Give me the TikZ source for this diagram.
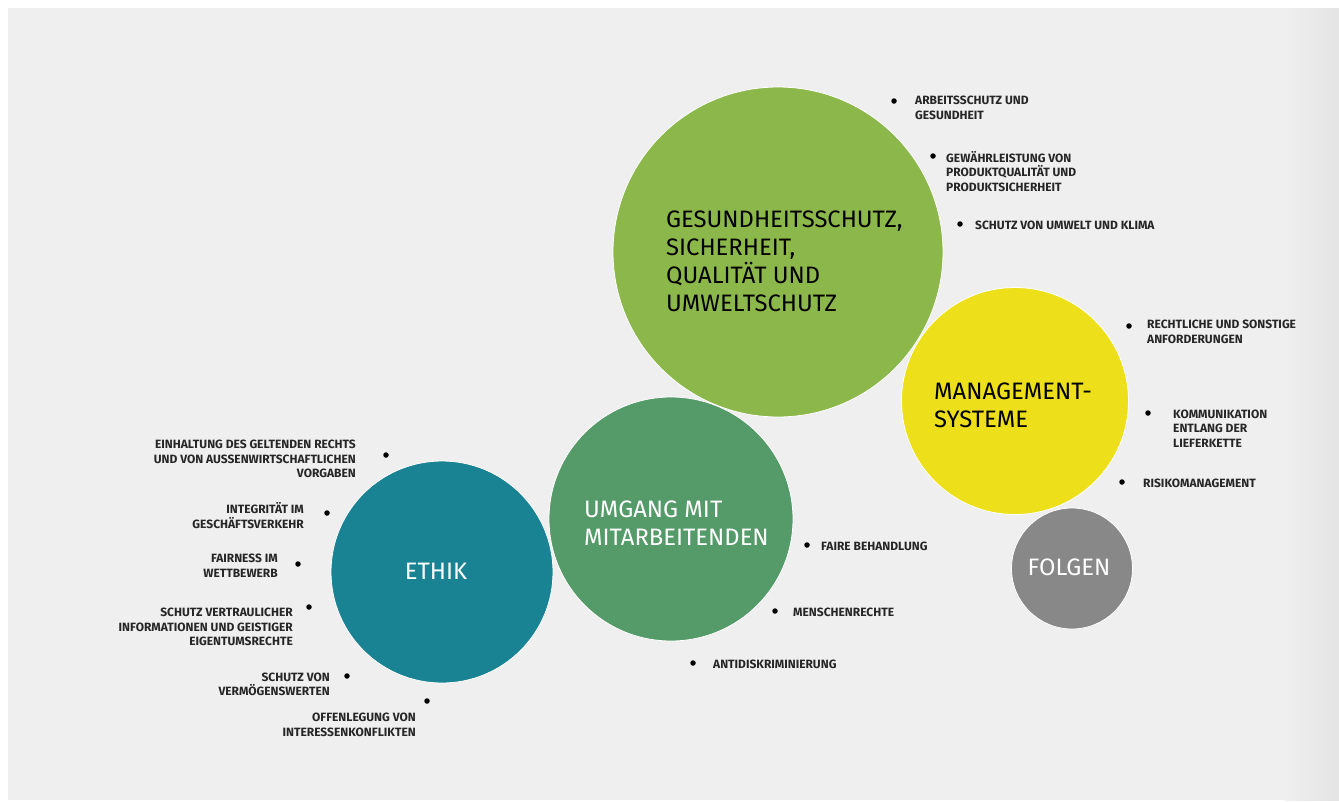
\documentclass[tikz,border=0pt]{standalone}
\usepackage{fontspec}
\setmainfont{Fira Sans}
\definecolor{bg}{HTML}{EFEFEF}
\definecolor{bgdark}{HTML}{E4E4E4}
\definecolor{cgreen}{HTML}{8CB84B}
\definecolor{cyellow}{HTML}{EDE01B}
\definecolor{cdgreen}{HTML}{559A69}
\definecolor{cteal}{HTML}{198393}
\definecolor{cgrey}{HTML}{888888}
\definecolor{labelgray}{HTML}{262626}
\tikzset{
  bubble/.style={circle, inner sep=0pt, draw=white, line width=0.8pt},
  lbl/.style={font=\fontsize{12}{14.5}\selectfont\bfseries, text=labelgray, inner sep=0pt},
  lblL/.style={lbl, align=left, anchor=west},
  lblR/.style={lbl, align=right, anchor=east},
  bullet/.style={circle, fill=black, inner sep=0pt, minimum size=5.5pt},
  ttl/.style={font=\fontsize{23.8}{28}\selectfont, inner sep=0pt, align=left},
}
\begin{document}
\begin{tikzpicture}[x=1pt,y=-1pt]
\useasboundingbox (0,0) rectangle (1339,801);
\fill[white] (0,0) rectangle (1339,801);
\fill[bg] (8,8) rectangle (1339,800);
\shade[left color=bg, right color=bgdark] (1285,8) rectangle (1339,800);
% bubbles
\node[bubble, fill=cgreen,  minimum size=330pt] (gs) at (778,252) {};
\node[bubble, fill=cyellow, minimum size=227pt] (ms) at (1015,401) {};
\node[bubble, fill=cdgreen, minimum size=244pt] (um) at (671,519) {};
\node[bubble, fill=cteal,   minimum size=222pt] (et) at (442,572) {};
\node[bubble, fill=cgrey,   minimum size=121pt] (fo) at (1072,568.5) {};
% titles
\node[ttl, anchor=west, text=black] (gst) at (666,261.5) {GESUNDHEITSSCHUTZ,\\SICHERHEIT,\\QUALITÄT UND\\UMWELTSCHUTZ};
\node[ttl, anchor=west, text=black] (mst) at (934,405.5) {MANAGEMENT-\\SYSTEME};
\node[ttl, anchor=west, text=white] (umt) at (584,523) {UMGANG MIT\\MITARBEITENDEN};
\node[ttl, text=white] (ett) at (436,571) {ETHIK};
\node[ttl, text=white] (fot) at (1069,567) {FOLGEN};
% bullets
\node[bullet] (d1) at (894,101) {};
\node[bullet] (d2) at (933,156) {};
\node[bullet] (d3) at (960,224) {};
\node[bullet] (d4) at (1129,326) {};
\node[bullet] (d5) at (1148,413) {};
\node[bullet] (d6) at (1122,482) {};
\node[bullet] (d7) at (807,545) {};
\node[bullet] (d8) at (775,611) {};
\node[bullet] (d9) at (693,663) {};
\node[bullet] (e1) at (386,455) {};
\node[bullet] (e2) at (327,513) {};
\node[bullet] (e3) at (298,564) {};
\node[bullet] (e4) at (309,607) {};
\node[bullet] (e5) at (347,676) {};
\node[bullet] (e6) at (427,701) {};
% labels right side
\node[lblL] (l1) at (915,108) {ARBEITSSCHUTZ UND\\GESUNDHEIT};
\node[lblL] (l2) at (946,171.5) {GEWÄHRLEISTUNG VON\\PRODUKTQUALITÄT UND\\PRODUKTSICHERHEIT};
\node[lblL] (l3) at (975,225) {SCHUTZ VON UMWELT UND KLIMA};
\node[lblL] (l4) at (1147,332) {RECHTLICHE UND SONSTIGE\\ANFORDERUNGEN};
\node[lblL] (l5) at (1173,428.5) {KOMMUNIKATION\\ENTLANG DER\\LIEFERKETTE};
\node[lblL] (l6) at (1143,483) {RISIKOMANAGEMENT};
\node[lblL] (l7) at (821,546) {FAIRE BEHANDLUNG};
\node[lblL] (l8) at (793,612) {MENSCHENRECHTE};
\node[lblL] (l9) at (713,664) {ANTIDISKRIMINIERUNG};
% labels left side
\node[lblR] (r1) at (356,459) {EINHALTUNG DES GELTENDEN RECHTS\\UND VON AUSSENWIRTSCHAFTLICHEN\\VORGABEN};
\node[lblR] (r2) at (304,515.5) {INTEGRITÄT IM\\GESCHÄFTSVERKEHR};
\node[lblR] (r3) at (278,565.5) {FAIRNESS IM\\WETTBEWERB};
\node[lblR] (r4) at (293,627) {SCHUTZ VERTRAULICHER\\INFORMATIONEN UND GEISTIGER\\EIGENTUMSRECHTE};
\node[lblR] (r5) at (330,684.5) {SCHUTZ VON\\VERMÖGENSWERTEN};
\node[lblR] (r6) at (416,725) {OFFENLEGUNG VON\\INTERESSENKONFLIKTEN};
\end{tikzpicture}
\end{document}
